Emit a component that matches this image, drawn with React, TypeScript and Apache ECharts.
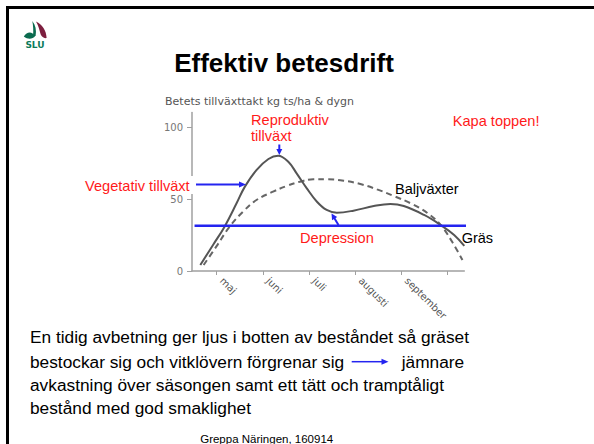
import React, { useEffect, useRef } from "react";
import * as echarts from "echarts";

const monthLabels = ["maj", "juni", "juli", "augusti", "september"];
const monthTicks = [5, 6, 7, 8, 9, 10];
const monthLabelPos = [5.11, 6.11, 7.11, 8.11, 9.11];
const yTicks = [0, 50, 100];

const grasX = [4.645, 4.92, 5.17, 5.43, 5.61, 5.86, 6.12, 6.33, 6.55, 6.73, 6.95, 7.17, 7.38, 7.6, 7.96, 8.4, 8.76, 9.05, 9.49, 9.85, 10.14, 10.36];
const grasY = [4.2, 18.1, 30.8, 47.0, 58.6, 70.1, 77.8, 80.1, 75.9, 67.8, 57.4, 48.1, 42.4, 40.5, 41.9, 45.1, 46.5, 45.1, 38.9, 31.9, 25, 17.4];

const baljX = [4.717, 4.99, 5.28, 5.57, 5.86, 6.22, 6.51, 6.8, 7.09, 7.38, 7.75, 8.11, 8.47, 8.83, 9.2, 9.56, 9.85, 10.1, 10.32];
const baljY = [4.2, 16.9, 30.8, 41.2, 49.3, 55.1, 59.0, 62.0, 63.7, 63.7, 62.7, 60.4, 56.7, 52.1, 47.0, 40.3, 31.9, 20.1, 7.6];

const levelX = [4.52, 10.5];
const levelY = [31.5, 31.5];

const slideTitle = "Effektiv betesdrift";
const axisTitle = "Betets tillväxttakt kg ts/ha & dygn";
const bodyLines = [
  "En tidig avbetning ger ljus i botten av beståndet så gräset",
  "bestockar sig och vitklövern förgrenar sig",
  "avkastning över säsongen samt ett tätt och tramptåligt",
  "bestånd med god smaklighet",
];
const bodyLine2End = "jämnare";
const footer = "Greppa Näringen, 160914";

const ARIAL = "'Liberation Sans', Arial, Helvetica, sans-serif";
const DEJAVU = "'DejaVu Sans', sans-serif";
const RED = "#ff1a1a";
const BLUE = "#2424f0";

let shapesRegistered = false;
function registerShapes() {
  if (shapesRegistered) return;
  shapesRegistered = true;
  echarts.graphic.registerShape(
    "sluStem",
    echarts.graphic.extendPath("M32.3 21 C35.6 25 36.6 30 35.6 36 L33 36 C33.6 30.5 33.2 25.5 32.3 21 Z", {})
  );
  echarts.graphic.registerShape(
    "sluLeftLeaf",
    echarts.graphic.extendPath("M35.2 36 C32 31.2 27 31.2 23.8 36.6 C28 39.8 32.6 39.3 35.2 36 Z", {})
  );
  echarts.graphic.registerShape(
    "sluRightLeaf",
    echarts.graphic.extendPath("M36 21.5 C42.2 24.8 46.3 30 46.6 38 C44 38.6 42 37.2 40.7 34.6 C39.4 30 38.6 25.8 36 21.5 Z", {})
  );
}

function txt(text: string, x: number, y: number, size: number, fill: string, opts: any = {}) {
  return {
    type: "text",
    x,
    y,
    z: 100,
    style: {
      text,
      fill,
      fontSize: size,
      fontFamily: opts.family || ARIAL,
      fontWeight: opts.weight || "normal",
      align: opts.align || "left",
      textAlign: opts.align || "left",
      verticalAlign: "middle",
      textVerticalAlign: "middle",
    },
  };
}

function arrow(x1: number, y1: number, x2: number, y2: number, color: string, width = 2, head = 7, half = 3) {
  const dx = x2 - x1;
  const dy = y2 - y1;
  const len = Math.sqrt(dx * dx + dy * dy);
  const ux = dx / len;
  const uy = dy / len;
  const bx = x2 - ux * head;
  const by = y2 - uy * head;
  return [
    {
      type: "line",
      z: 100,
      shape: { x1, y1, x2: bx + ux * 1, y2: by + uy * 1 },
      style: { stroke: color, lineWidth: width },
    },
    {
      type: "polygon",
      z: 100,
      shape: {
        points: [
          [x2, y2],
          [bx - uy * half, by + ux * half],
          [bx + uy * half, by - ux * half],
        ],
      },
      style: { fill: color },
    },
  ];
}

export default function App() {
  const ref = useRef<HTMLDivElement>(null);

  useEffect(() => {
    if (!ref.current) return;
    registerShapes();
    const chart = echarts.init(ref.current, undefined, { renderer: "svg" });

    const gras = grasX.map((x, i) => [x, grasY[i]]);
    const balj = baljX.map((x, i) => [x, baljY[i]]);
    const level = levelX.map((x, i) => [x, levelY[i]]);

    const graphic: any[] = [
      { type: "rect", z: 100, shape: { x: 6, y: 6, width: 600, height: 3 }, style: { fill: "#000" } },
      { type: "rect", z: 100, shape: { x: 6, y: 6, width: 3, height: 450 }, style: { fill: "#000" } },
      { type: "sluStem", z: 100, style: { fill: "#0b6b4f" } },
      { type: "sluLeftLeaf", z: 100, style: { fill: "#0b6b4f" } },
      { type: "sluRightLeaf", z: 100, style: { fill: "#7d1f3f" } },
      txt("SLU", 35, 45, 9, "#0b7a5a", { align: "center", family: DEJAVU, weight: "bold" }),
      txt(slideTitle, 284, 63, 26, "#000", { align: "center", weight: "bold" }),
      txt(axisTitle, 165, 101, 11, "#555", { family: DEJAVU }),
      txt("Reproduktiv", 251, 119.5, 14.6, RED),
      txt("tillväxt", 251, 136, 14.6, RED),
      txt("Kapa toppen!", 452.7, 120.5, 14.6, RED),
      { type: "rect", z: 99, shape: { x: 83, y: 176, width: 111, height: 18 }, style: { fill: "#fff" } },
      txt("Vegetativ tillväxt", 85, 185.5, 14.6, RED),
      txt("Baljväxter", 395, 188.7, 14.5, "#000"),
      txt("Depression", 300, 237.7, 14.6, RED),
      txt("Gräs", 461.7, 237.7, 14.5, "#000"),
      ...arrow(196, 184.5, 246, 184.5, BLUE, 2),
      ...arrow(279.3, 144.5, 279.3, 155, BLUE, 2, 6, 3),
      ...arrow(338.5, 225, 331.5, 213.5, BLUE, 2, 6, 3),
      txt(bodyLines[0], 30, 336.5, 17.3, "#000"),
      txt(bodyLines[1], 30, 361.6, 17.3, "#000"),
      ...arrow(351.7, 361.7, 388.5, 361.7, BLUE, 1.5, 7, 3),
      txt(bodyLine2End, 401.7, 361.6, 17.3, "#000"),
      txt(bodyLines[2], 30, 384.8, 17.3, "#000"),
      txt(bodyLines[3], 30, 407.6, 17.3, "#000"),
      txt(footer, 266.7, 439, 11.5, "#000", { align: "center" }),
    ];

    chart.setOption({
      animation: false,
      backgroundColor: "#fff",
      grid: { left: 192, right: 129.7, top: 112.6, bottom: 173, containLabel: false },
      xAxis: {
        type: "value",
        min: 4.465,
        max: 10.36,
        splitLine: { show: false },
        axisLine: { show: true, lineStyle: { color: "#a0a0a0", width: 1.5 } },
        axisTick: { show: true, customValues: monthTicks, length: 4, lineStyle: { color: "#a0a0a0", width: 1 } },
        axisLabel: {
          customValues: monthLabelPos,
          rotate: -45,
          margin: 8,
          color: "#555",
          fontSize: 10,
          fontFamily: DEJAVU,
          formatter: (v: number) => monthLabels[Math.floor(v) - 5] || "",
        },
      },
      yAxis: {
        type: "value",
        min: 0,
        max: 110,
        splitLine: { show: false },
        axisLine: { show: true, lineStyle: { color: "#a0a0a0", width: 1.5 } },
        axisTick: { show: true, customValues: yTicks, length: 5, lineStyle: { color: "#a0a0a0", width: 1 } },
        axisLabel: {
          customValues: yTicks,
          margin: 9,
          color: "#777",
          fontSize: 10,
          fontFamily: DEJAVU,
        },
      },
      series: [
        {
          name: "Gräs",
          type: "line",
          data: gras,
          smooth: 0.4,
          symbol: "none",
          clip: false,
          lineStyle: { color: "#555", width: 2 },
          z: 3,
        },
        {
          name: "Baljväxter",
          type: "line",
          data: balj,
          smooth: 0.4,
          symbol: "none",
          clip: false,
          lineStyle: { color: "#666", width: 2, type: [6, 4] },
          z: 2,
        },
        {
          name: "Nivå",
          type: "line",
          data: level,
          symbol: "none",
          clip: false,
          lineStyle: { color: BLUE, width: 2.5 },
          z: 4,
        },
      ],
      graphic,
    });

    return () => chart.dispose();
  }, []);

  return <div ref={ref} style={{ position: "absolute", left: 0, top: 0, width: 594, height: 444 }} />;
}
